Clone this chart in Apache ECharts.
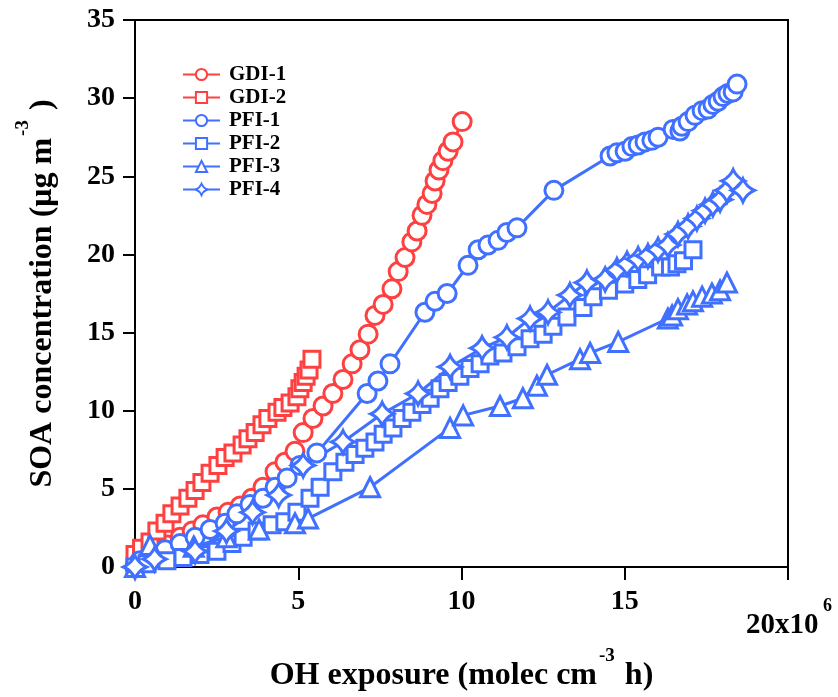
<!DOCTYPE html>
<html>
<head>
<meta charset="utf-8">
<script src="https://cdn.jsdelivr.net/npm/echarts@6/dist/echarts.min.js"></script>
<style>
html,body{margin:0;padding:0;background:#fff;}
#c{width:838px;height:697px;}
</style>
</head>
<body>
<div id="c"></div>
<script>
// ---- data (x: OH exposure in 1e6 molec cm-3 h, y: SOA ug m-3) ----
var seriesNames = ['GDI-1','GDI-2','PFI-1','PFI-2','PFI-3','PFI-4'];
var xTicks = [0,5,10,15,20];
var yTicks = [0,5,10,15,20,25,30,35];

var gdi1 = [[0,0],[0.2,0.5],[0.6,0.9],[1.0,1.4],[1.38,1.9],[1.75,2.3],[2.08,2.7],[2.51,3.2],[2.85,3.5],[3.22,3.9],[3.58,4.4],[3.92,5.1],[4.29,6.1],[4.59,6.7],[4.90,7.4],[5.15,8.6],[5.45,9.5],[5.76,10.3],[6.06,11.1],[6.37,12.0],[6.65,13.0],[6.89,13.9],[7.14,14.9],[7.35,16.1],[7.60,16.8],[7.87,17.8],[8.06,18.9],[8.27,19.8],[8.48,20.8],[8.64,21.5],[8.79,22.5],[8.94,23.2],[9.10,23.9],[9.19,24.7],[9.31,25.4],[9.43,26.0],[9.59,26.6],[9.74,27.2],[10.02,28.5]];

var gdi2 = [[0,0.8],[0.2,1.2],[0.46,1.6],[0.67,2.3],[0.92,2.8],[1.13,3.4],[1.38,3.9],[1.62,4.4],[1.84,4.9],[2.05,5.4],[2.30,6.0],[2.54,6.5],[2.76,7.0],[3.00,7.3],[3.28,7.8],[3.46,8.2],[3.68,8.6],[3.89,9.1],[4.07,9.5],[4.35,9.9],[4.53,10.2],[4.75,10.5],[4.96,10.9],[5.05,11.4],[5.15,11.8],[5.24,12.2],[5.33,12.6],[5.42,13.3]];

var pfi1 = [[0,0],[0.15,0.4],[0.46,0.7],[0.92,1.1],[1.38,1.5],[1.84,1.9],[2.30,2.4],[2.76,2.8],[3.12,3.4],[3.52,4.0],[3.92,4.4],[4.29,5.1],[4.66,5.7],[5.05,6.5],[5.57,7.3],[7.11,11.1],[7.44,11.9],[7.81,13.0],[8.88,16.3],[9.19,17.0],[9.56,17.5],[10.20,19.3],[10.51,20.3],[10.81,20.6],[11.12,20.9],[11.39,21.4],[11.70,21.7],[12.83,24.1],[14.55,26.3],[14.76,26.5],[15.01,26.6],[15.22,26.9],[15.41,27.0],[15.62,27.2],[15.83,27.3],[16.02,27.5],[16.48,28.0],[16.69,27.9],[16.75,28.2],[16.94,28.5],[17.15,28.9],[17.37,29.2],[17.55,29.3],[17.70,29.6],[17.86,29.8],[18.01,30.1],[18.16,30.3],[18.32,30.4],[18.44,30.9]];

var pfi2 = [[0,0],[0.37,0.2],[0.98,0.4],[1.47,0.6],[1.99,0.8],[2.51,1.0],[2.97,1.5],[3.31,1.9],[3.74,2.3],[4.20,2.7],[4.59,2.9],[4.96,3.5],[5.36,4.4],[5.67,5.1],[6.06,6.1],[6.43,6.7],[6.74,7.2],[7.04,7.6],[7.35,8.0],[7.60,8.5],[7.90,8.9],[8.18,9.5],[8.48,9.9],[8.79,10.4],[9.04,10.8],[9.34,11.4],[9.59,11.8],[9.95,12.2],[10.26,12.7],[10.57,13.0],[10.87,13.5],[11.27,13.7],[11.70,14.1],[12.10,14.6],[12.50,14.9],[12.80,15.4],[13.23,16.0],[13.72,16.6],[14.03,17.3],[14.50,17.7],[15.00,18.1],[15.40,18.4],[15.70,18.7],[16.10,19.2],[16.40,19.2],[16.60,19.4],[16.80,19.6],[17.09,20.3]];

var pfi3 = [[0,0],[0.46,1.4],[1.80,1.3],[2.80,1.9],[3.80,2.4],[4.90,2.8],[5.30,3.1],[7.20,5.1],[9.65,8.9],[10.05,9.7],[11.18,10.3],[11.88,10.8],[12.31,11.6],[12.62,12.3],[13.63,13.3],[13.94,13.7],[14.80,14.4],[16.32,15.9],[16.45,16.1],[16.63,16.5],[16.91,16.8],[17.09,17.0],[17.37,17.3],[17.67,17.5],[17.92,17.7],[18.13,18.2]];

var pfi4 = [[0,0],[0.6,0.5],[1.84,1.0],[2.80,2.3],[3.60,3.5],[4.40,4.6],[5.15,6.5],[6.37,8.0],[7.57,9.8],[8.67,11.1],[9.65,12.8],[10.63,14.0],[11.39,14.7],[12.10,15.9],[12.65,16.3],[13.32,17.4],[13.84,18.2],[14.40,18.4],[14.76,19.0],[15.07,19.4],[15.41,19.7],[15.71,19.9],[16.02,20.3],[16.32,20.6],[16.63,21.3],[16.94,21.8],[17.21,22.3],[17.46,22.8],[17.70,23.2],[17.92,23.5],[18.13,24.1],[18.32,24.7],[18.62,24.1]];

// ---- styling ----
var RED = '#ff4040', BLUE = '#4070ff';
var FONT = '"Liberation Serif","Times New Roman",serif';
var STAR = 'path://M0,-10 Q3,-3 10,0 Q3,3 0,10 Q-3,3 -10,0 Q-3,-3 0,-10 Z';

function mk(name, data, color, symbol, size) {
  return {
    name: name, type: 'line', data: data,
    symbol: symbol, symbolSize: size, showAllSymbol: true,
    clip: false,
    lineStyle: { color: color, width: 3 },
    itemStyle: { color: '#ffffff', borderColor: color, borderWidth: 3 },
    emphasis: { disabled: true },
    animation: false
  };
}

var chart = echarts.init(document.getElementById('c'), null, { renderer: 'canvas' });
chart.setOption({
  backgroundColor: '#ffffff',
  animation: false,
  grid: { left: 135, right: 50, top: 20, bottom: 124, show: true, borderColor: '#000', borderWidth: 2, backgroundColor: 'transparent' },
  legend: {
    orient: 'vertical', left: 177, top: 59,
    itemWidth: 37, itemHeight: 14, itemGap: 2,
    data: seriesNames,
    textStyle: { fontFamily: FONT, fontWeight: 'bold', fontSize: 21, color: '#000', padding: [0,0,0,4] },
    selectedMode: false
  },
  xAxis: {
    type: 'value', min: xTicks[0], max: xTicks[xTicks.length - 1], interval: 5,
    splitLine: { show: false },
    axisLine: { show: true, lineStyle: { color: '#000', width: 2 } },
    axisTick: { show: true, inside: false, length: 13, lineStyle: { color: '#000', width: 2 } },
    axisLabel: {
      margin: 21, color: '#000', fontFamily: FONT, fontWeight: 'bold', fontSize: 28,
      formatter: function (v) { return v === 20 ? '' : String(v); }
    },
    name: '{t|OH exposure (molec cm}{s|-3}{t| h)}',
    nameLocation: 'middle', nameGap: 80,
    nameTextStyle: {
      color: '#000', fontFamily: FONT, fontWeight: 'bold',
      rich: {
        t: { fontFamily: FONT, fontWeight: 'bold', fontSize: 32, color: '#000', verticalAlign: 'bottom' },
        s: { fontFamily: FONT, fontWeight: 'bold', fontSize: 19, color: '#000', padding: [0, 2, 26, 2], verticalAlign: 'bottom' }
      }
    }
  },
  yAxis: {
    type: 'value', min: yTicks[0], max: yTicks[yTicks.length - 1], interval: 5,
    splitLine: { show: false },
    axisLine: { show: true, lineStyle: { color: '#000', width: 2 } },
    axisTick: { show: true, inside: false, length: 12, lineStyle: { color: '#000', width: 2 } },
    axisLabel: { margin: 20, color: '#000', fontFamily: FONT, fontWeight: 'bold', fontSize: 28 },
    name: '{t|SOA concentration (μg m}{s|-3}{t| )}',
    nameLocation: 'middle', nameGap: 76,
    nameTextStyle: {
      color: '#000', fontFamily: FONT, fontWeight: 'bold',
      rich: {
        t: { fontFamily: FONT, fontWeight: 'bold', fontSize: 32, color: '#000', verticalAlign: 'bottom' },
        s: { fontFamily: FONT, fontWeight: 'bold', fontSize: 19, color: '#000', padding: [0, 2, 26, 2], verticalAlign: 'bottom' }
      }
    }
  },
  graphic: [
    { type: 'text', left: 746, top: 611, style: { text: '20x10', font: 'bold 29px ' + FONT, fill: '#000' } },
    { type: 'text', left: 823, top: 597, style: { text: '6', font: 'bold 18px ' + FONT, fill: '#000' } }
  ],
  series: [
    mk('GDI-1', gdi1, RED, 'circle', 18),
    mk('GDI-2', gdi2, RED, 'rect', 16),
    mk('PFI-1', pfi1, BLUE, 'circle', 18),
    mk('PFI-2', pfi2, BLUE, 'rect', 16),
    mk('PFI-3', pfi3, BLUE, 'triangle', 19),
    mk('PFI-4', pfi4, BLUE, STAR, 23)
  ]
});
</script>
</body>
</html>
